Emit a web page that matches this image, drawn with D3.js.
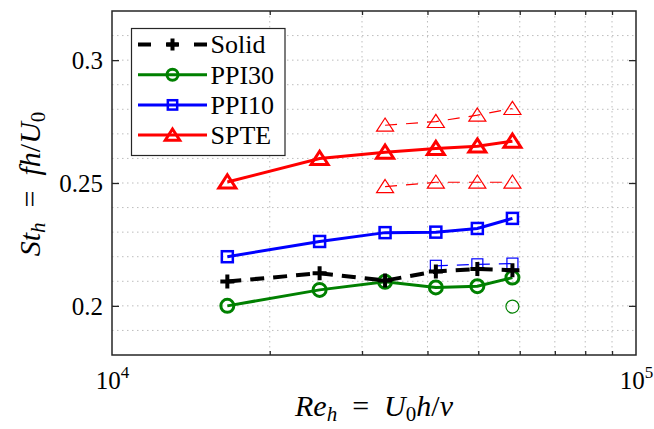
<!DOCTYPE html>
<html>
<head>
<meta charset="utf-8">
<script src="https://cdn.jsdelivr.net/npm/d3@7"></script>
<style>
body { margin: 0; background: #fff; }
</style>
</head>
<body>
<svg id="chart" width="654" height="429"></svg>
<script>
// Reynolds numbers of the six runs (same for every case)
var reh = [16600, 24900, 33200, 41500, 49800, 58100];

// main Strouhal numbers, thick lines
var solidSt = [0.2099, 0.2133, 0.2103, 0.2140, 0.2150, 0.2145];
var ppi30St = [0.2000, 0.2065, 0.2098, 0.2075, 0.2080, 0.2115];
var ppi10St = [0.2200, 0.2262, 0.2298, 0.2300, 0.2315, 0.2356];
var spteSt  = [0.2504, 0.2600, 0.2625, 0.2640, 0.2650, 0.2670];

// secondary peaks, thin lines
var spteHighRe = [33200, 41500, 49800, 58100];
var spteHighSt = [0.2735, 0.2750, 0.2776, 0.2803];
var spteLowRe  = [33200, 41500, 49800, 58100];
var spteLowSt  = [0.2485, 0.2503, 0.2503, 0.2503];
var ppi10HighRe = [41500, 49800, 58100];
var ppi10HighSt = [0.2163, 0.2169, 0.2172];
var ppi30LowRe = [58100];
var ppi30LowSt = [0.1997];

var legendLabels = ["Solid", "PPI30", "PPI10", "SPTE"];
var xTicks = [1e4, 1e5];
var xTickExp = ["4", "5"];
var yTicks = [0.2, 0.25, 0.3];

// plot box (window.top is reserved, so no "top" here)
var boxL = 112, boxR = 636, boxT = 11, boxB = 355;
var serif = "Liberation Serif";

var svg = d3.select("#chart").attr("font-family", serif);
var x = d3.scaleLog().domain([1e4, 1e5]).range([boxL, boxR]);
var y = d3.scaleLinear().domain([0.18, 0.32]).range([boxB, boxT]);

var xMinor = d3.range(2, 10).map(function(k) { return k * 1e4; });
var yMinor = d3.range(19, 32).map(function(k) { return k / 100; });

// dotted grid
var grid = svg.append("g")
    .attr("stroke", "#bdbdbd")
    .attr("stroke-width", 1)
    .attr("stroke-dasharray", "1.5,3.5");
grid.selectAll(".vg").data(xMinor).enter().append("line")
    .attr("x1", function(d) { return x(d); })
    .attr("x2", function(d) { return x(d); })
    .attr("y1", boxT).attr("y2", boxB);
grid.selectAll(".hg").data(yMinor).enter().append("line")
    .attr("x1", boxL).attr("x2", boxR)
    .attr("y1", function(d) { return y(d); })
    .attr("y2", function(d) { return y(d); });

// markers
function marker(g, kind, size, color, sw) {
    if (kind == "plus") {
        g.append("path").attr("d", "M" + (-size) + ",0H" + size + "M0," + (-size) + "V" + size)
            .attr("stroke", color).attr("stroke-width", sw).attr("fill", "none");
    } else if (kind == "circle") {
        g.append("circle").attr("r", size)
            .attr("stroke", color).attr("stroke-width", sw).attr("fill", "none");
    } else if (kind == "square") {
        g.append("rect").attr("x", -size).attr("y", -size)
            .attr("width", 2 * size).attr("height", 2 * size)
            .attr("stroke", color).attr("stroke-width", sw).attr("fill", "none");
    } else if (kind == "tri") {
        g.append("path")
            .attr("d", "M0," + (-size * 0.85) + "L" + size + "," + (size * 0.7) + "L" + (-size) + "," + (size * 0.7) + "Z")
            .attr("stroke", color).attr("stroke-width", sw).attr("fill", "none")
            .attr("stroke-linejoin", "miter");
    }
}

function series(xs, ys, opt) {
    var pts = xs.map(function(d, i) { return [x(d), y(ys[i])]; });
    var g = svg.append("g");
    if (opt.line !== false) {
        g.append("path")
            .attr("d", d3.line()(pts))
            .attr("fill", "none")
            .attr("stroke", opt.color)
            .attr("stroke-width", opt.width)
            .attr("stroke-dasharray", opt.dash || null);
    }
    g.selectAll(".m").data(pts).enter().append("g")
        .attr("transform", function(d) { return "translate(" + d[0] + "," + d[1] + ")"; })
        .each(function() { marker(d3.select(this), opt.marker, opt.size, opt.color, opt.msw); });
}

var styles = [
    { color: "#000000", width: 4, dash: "14,9", marker: "plus", size: 7, msw: 4 },
    { color: "#008000", width: 3, marker: "circle", size: 6.5, msw: 3 },
    { color: "#0000ff", width: 3, marker: "square", size: 5.5, msw: 2.5 },
    { color: "#ff0000", width: 3, marker: "tri", size: 8.5, msw: 3 }
];

// thin secondary peaks
series(spteHighRe, spteHighSt, { color: "#ff0000", width: 1.2, dash: "12,9", marker: "tri", size: 8.5, msw: 1.2 });
series(spteLowRe, spteLowSt, { color: "#ff0000", width: 1.2, dash: "12,9", marker: "tri", size: 8.5, msw: 1.2 });
series(ppi10HighRe, ppi10HighSt, { color: "#0000ff", width: 1.2, dash: "12,9", marker: "square", size: 5.5, msw: 1.2 });
series(ppi30LowRe, ppi30LowSt, { color: "#008000", line: false, marker: "circle", size: 6.5, msw: 1.2 });

// main curves
series(reh, spteSt, styles[3]);
series(reh, ppi10St, styles[2]);
series(reh, ppi30St, styles[1]);
series(reh, solidSt, styles[0]);

// axes: inward ticks
function styleAxis(g) {
    g.select(".domain").remove();
    g.selectAll(".tick line").attr("stroke", "#262626").attr("stroke-width", 1.3);
    g.attr("font-family", serif).attr("font-size", null);
}
svg.append("g").attr("transform", "translate(0," + boxB + ")")
    .call(d3.axisBottom(x).tickValues(xMinor).tickSize(-4).tickFormat(""))
    .call(styleAxis);
svg.append("g").attr("transform", "translate(0," + boxT + ")")
    .call(d3.axisTop(x).tickValues(xMinor).tickSize(-4).tickFormat(""))
    .call(styleAxis);
svg.append("g").attr("transform", "translate(" + boxR + ",0)")
    .call(d3.axisRight(y).tickValues(yTicks).tickSize(-7).tickFormat(""))
    .call(styleAxis);

var yAxis = svg.append("g").attr("transform", "translate(" + boxL + ",0)")
    .call(d3.axisLeft(y).tickValues(yTicks).tickSize(-7).tickPadding(9)
        .tickFormat(function(d) { return String(d); }))
    .call(styleAxis);
yAxis.selectAll(".tick text").attr("font-family", serif).attr("font-size", 25)
    .attr("fill", "#000").attr("dy", "0.34em");

var xAxis = svg.append("g").attr("transform", "translate(0," + boxB + ")")
    .call(d3.axisBottom(x).tickValues(xTicks).tickSize(0).tickFormat(""))
    .call(styleAxis);
xAxis.selectAll(".tick text").each(function(d, i) {
    var t = d3.select(this).attr("y", 34).attr("dy", null)
        .attr("font-family", serif).attr("font-size", 25).attr("fill", "#000");
    t.append("tspan").text("10");
    t.append("tspan").attr("font-size", 17).attr("dy", -11).text(xTickExp[i]);
});

// frame
svg.append("rect")
    .attr("x", boxL).attr("y", boxT)
    .attr("width", boxR - boxL).attr("height", boxB - boxT)
    .attr("fill", "none").attr("stroke", "#262626").attr("stroke-width", 1.5);

// axis labels
var xl = svg.append("text").attr("x", (boxL + boxR) / 2).attr("y", 416)
    .attr("text-anchor", "middle").attr("font-family", serif).attr("font-size", 30);
xl.append("tspan").attr("font-style", "italic").text("Re");
xl.append("tspan").attr("font-style", "italic").attr("font-size", 21).attr("dy", 5).text("h");
xl.append("tspan").attr("dy", -5).text("\u2002=\u2002");
xl.append("tspan").attr("font-style", "italic").text("U");
xl.append("tspan").attr("font-size", 21).attr("dy", 5).text("0");
xl.append("tspan").attr("font-style", "italic").attr("dy", -5).text("h");
xl.append("tspan").text("/");
xl.append("tspan").attr("font-style", "italic").text("\u03bd");

var yl = svg.append("text").attr("transform", "translate(40,184) rotate(-90)")
    .attr("text-anchor", "middle").attr("font-family", serif).attr("font-size", 30);
yl.append("tspan").attr("font-style", "italic").text("St");
yl.append("tspan").attr("font-style", "italic").attr("font-size", 21).attr("dy", 5).text("h");
yl.append("tspan").attr("dy", -5).text("\u2002=\u2002");
yl.append("tspan").attr("font-style", "italic").text("fh");
yl.append("tspan").text("/");
yl.append("tspan").attr("font-style", "italic").text("U");
yl.append("tspan").attr("font-size", 21).attr("dy", 5).text("0");

// legend
var lg = svg.append("g");
lg.append("rect").attr("x", 131.5).attr("y", 28.5).attr("width", 153.5).attr("height", 127)
    .attr("fill", "#fff").attr("stroke", "#262626").attr("stroke-width", 1.2);
var rows = lg.selectAll(".row").data(legendLabels).enter().append("g")
    .attr("transform", function(d, i) { return "translate(0," + (44.5 + i * 30.2) + ")"; });
rows.each(function(d, i) {
    var r = d3.select(this), s = styles[i];
    r.append("line").attr("x1", 138).attr("x2", 207).attr("y1", 0).attr("y2", 0)
        .attr("stroke", s.color).attr("stroke-width", s.width)
        .attr("stroke-dasharray", i == 0 ? "13,15" : null);
    var m = r.append("g").attr("transform", "translate(172.5,0)");
    marker(m, s.marker, s.size * 0.85, s.color, s.msw);
    r.append("text").attr("x", 210.5).attr("y", 0).attr("dy", "0.34em")
        .attr("font-family", serif).attr("font-size", 26).text(d);
});
</script>
</body>
</html>
